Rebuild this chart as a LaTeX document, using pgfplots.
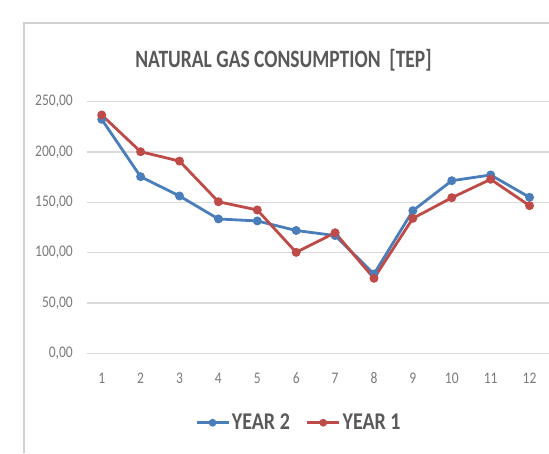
\documentclass[border=0pt]{standalone}
\usepackage{pgfplots}
\pgfplotsset{compat=1.18}
\usepackage{fontspec}
\setmainfont{Carlito}
\definecolor{tgray}{HTML}{595959}
\definecolor{lgray}{HTML}{7A7A7A}
\definecolor{gridgray}{HTML}{D9D9D9}
\definecolor{framegray}{HTML}{D0D0D0}
\definecolor{blue2}{HTML}{4A7EBB}
\definecolor{red1}{HTML}{BE4B48}
\newcommand{\vs}[1]{\scalebox{1}[1.2]{#1}}
\begin{document}
\begin{tikzpicture}[x=1pt,y=1pt]
\useasboundingbox (0,0) rectangle (549,453);
\draw[framegray, line width=1.2pt] (24,0) -- (24,430) -- (549,430);
\node[tgray, font=\fontsize{19.5}{22}\selectfont\bfseries] at (283.5,393) {\scalebox{1}[1.28]{NATURAL GAS CONSUMPTION\ \ [TEP]}};
\begin{axis}[
  at={(86.7pt,99.7pt)}, anchor=south west,
  scale only axis, width=462.3pt, height=251.6pt,
  xmin=0.614, xmax=12.5, ymin=0, ymax=250,
  axis line style={draw=none},
  clip=false,
  xtick={1,...,12},
  ytick={0,50,...,250},
  major tick length=0pt,
  ymajorgrids, grid style={draw=gridgray, line width=1.3pt},
  /pgf/number format/assume math mode=true,
  yticklabel={\vs{\pgfmathprintnumber[fixed,fixed zerofill,precision=2,use comma]{\tick}}},
  xticklabel={\vs{\pgfmathprintnumber{\tick}}},
  yticklabel style={anchor=east, inner sep=0pt, xshift=-13.7pt, font=\fontsize{13.5}{15}\selectfont, text=lgray},
  xticklabel style={anchor=base, inner sep=0pt, yshift=-29.7pt, font=\fontsize{13.5}{15}\selectfont, text=lgray},
  legend style={at={(0.459,-0.276)}, anchor=center, draw=none, fill=none,
    legend columns=2, font=\fontsize{20}{22}\selectfont\bfseries, text=tgray,
    /tikz/every even column/.append style={column sep=14pt}},
  legend image code/.code={
    \draw[#1] (0pt,0pt) -- (32pt,0pt);
    \draw[#1, mark size=2.4pt, mark repeat=1] plot coordinates {(16pt,0pt)};
  },
]
\addplot[blue2, line width=2.8pt, mark=*, mark size=3pt] coordinates {
(1,232.5) (2,175.5) (3,156.3) (4,133.5) (5,131.5) (6,122.0) (7,117.0) (8,78.8) (9,141.7) (10,171.5) (11,177.2) (12,155.0)};
\addlegendentry{\vs{YEAR 2}}
\addplot[red1, line width=2.8pt, mark=*, mark size=3pt] coordinates {
(1,236.8) (2,200.3) (3,191.0) (4,150.6) (5,142.4) (6,100.3) (7,119.8) (8,74.5) (9,134.1) (10,154.6) (11,172.9) (12,146.7)};
\addlegendentry{\vs{YEAR 1}}
\end{axis}
\end{tikzpicture}
\end{document}
